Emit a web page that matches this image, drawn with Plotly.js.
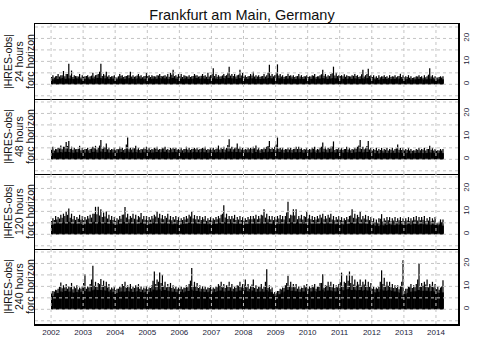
<!DOCTYPE html>
<html>
<head>
<meta charset="utf-8">
<script src="https://cdn.plot.ly/plotly-3.0.1.min.js"></script>
<style>body{margin:0;background:#fff;}</style>
</head>
<body>
<div id="chart" style="width:484px;height:348px;"></div>
<script>
let chartTitle = 'Frankfurt am Main, Germany';
let horizons = ['24 hours', '48 hours', '120 hours', '240 hours'];
let yearTicks = [2002, 2003, 2004, 2005, 2006, 2007, 2008, 2009, 2010, 2011, 2012, 2013, 2014];
let yTicks = [-5, 0, 5, 10, 15, 20, 25];
let yTickText = ['', '0', '', '10', '', '20', ''];

// monthly values, Jan 2002 .. Mar 2014
// "band" = top of the dense daily errors, "mid" = a typical spike, "peak" = highest spike of the month
let h24Band = [
    2.2,2.0,2.3,2.5,2.8,2.4,2.6,2.5,2.3,2.6,2.4,2.2,
    2.3,2.5,2.2,2.6,2.4,2.8,2.7,2.5,2.6,2.4,2.3,2.5,
    2.2,2.4,2.6,2.3,2.5,2.7,2.4,2.3,2.6,2.5,2.2,2.4,
    2.6,2.3,2.5,2.4,2.7,2.5,2.6,2.4,2.3,2.8,2.5,2.4,
    2.5,2.3,2.6,2.4,2.3,2.5,2.7,2.4,2.6,2.5,2.3,2.4,
    2.6,2.5,2.3,2.4,2.7,2.5,2.8,2.6,2.5,2.4,2.7,2.6,
    2.4,2.3,2.5,2.6,2.4,2.4,2.3,2.5,2.4,2.8,2.6,2.5,
    2.7,2.6,2.4,2.3,2.5,2.6,2.4,2.3,2.5,2.4,2.3,2.5,
    2.3,2.4,2.6,2.3,2.5,2.7,2.6,2.4,2.5,2.7,2.6,2.5,
    2.5,2.4,2.3,2.5,2.4,2.6,2.5,2.3,2.6,2.4,2.7,2.5,
    2.3,2.2,2.0,2.2,2.4,2.3,2.1,2.3,2.4,2.2,2.5,2.3,
    2.2,2.3,2.1,2.0,2.2,2.4,2.3,2.1,2.2,2.5,2.4,2.2,
    2.1,2.3,2.2
];
let h24Mid = [
    3.2,3.0,3.6,3.4,4.0,3.5,4.5,3.8,3.2,3.6,3.4,3.0,
    3.3,3.6,3.1,3.8,3.4,4.2,5.5,3.6,3.9,3.4,3.2,3.5,
    3.0,3.5,3.7,3.2,3.6,4.0,3.4,3.3,3.8,3.5,3.1,3.6,
    3.6,3.2,3.5,3.4,3.9,3.6,3.7,3.4,3.3,4.2,3.6,3.3,
    3.5,3.2,3.7,3.4,3.2,3.6,3.9,3.4,3.7,3.6,3.3,3.4,
    4.5,3.6,3.3,3.4,3.9,3.6,5.0,3.8,3.6,3.4,4.2,3.9,
    3.4,3.2,3.6,3.9,3.4,3.4,3.2,3.6,3.4,5.0,3.7,3.5,
    5.2,3.8,3.4,3.2,3.6,3.7,3.4,3.2,3.6,3.4,3.2,3.5,
    3.2,3.4,3.7,3.2,3.5,4.4,3.7,3.4,3.6,4.8,3.9,3.6,
    3.6,3.5,3.3,3.6,3.4,3.7,3.6,3.2,4.4,3.4,4.5,3.6,
    3.2,3.0,2.8,3.1,3.4,3.2,2.9,3.2,3.4,3.1,3.6,3.2,
    3.0,3.2,2.9,2.8,3.1,3.4,3.2,2.9,3.1,4.2,3.4,3.0,
    2.9,3.2,3.0
];
let h24Peak = [
    4.0,3.5,4.5,4.0,5.8,4.5,9.0,6.0,4.0,3.5,4.5,4.0,
    3.5,4.0,3.5,5.0,4.0,4.5,9.0,4.5,5.5,4.0,3.5,4.0,
    3.0,4.5,4.0,3.5,4.0,5.5,4.0,3.5,4.5,4.0,3.5,5.0,
    4.0,4.0,3.5,4.0,4.5,3.5,4.0,4.5,5.0,6.3,4.0,4.5,
    4.5,4.0,3.5,4.0,3.5,4.5,4.0,3.5,4.5,4.0,5.0,4.0,
    7.0,4.5,4.0,3.5,4.5,4.0,7.7,4.5,4.5,4.0,6.3,5.0,
    4.0,3.5,4.5,5.5,4.0,4.0,3.5,4.5,4.0,8.5,4.5,4.0,
    8.7,4.5,4.0,3.5,4.6,4.0,4.0,3.5,4.5,4.0,3.5,4.0,
    3.5,4.0,4.5,3.5,4.0,6.3,4.5,4.0,4.5,7.7,5.0,4.0,
    4.0,4.4,4.0,3.5,4.0,4.5,4.0,3.5,6.3,4.0,6.8,4.0,
    4.0,3.5,4.0,3.5,4.0,3.5,4.0,3.5,4.0,3.5,4.6,4.0,
    3.5,4.0,3.5,3.0,3.5,4.0,3.5,4.0,3.5,7.0,4.0,3.5,
    3.0,3.5,3.5
];
let h48Band = [
    2.8,2.6,3.0,3.2,3.0,3.3,3.2,3.0,2.9,3.1,3.0,2.8,
    2.9,3.1,2.8,3.2,3.3,3.0,3.4,3.1,3.2,3.0,2.9,3.0,
    2.8,3.0,3.2,2.9,3.4,3.1,3.0,3.2,3.0,2.9,3.1,3.0,
    3.1,2.9,3.0,3.2,3.0,3.1,3.3,3.0,2.9,3.1,3.2,3.0,
    3.0,2.8,3.1,3.0,2.9,3.2,3.1,3.0,3.2,3.1,2.9,3.0,
    3.1,3.0,3.2,3.0,3.1,3.0,3.4,3.3,3.1,3.2,3.1,3.0,
    2.9,3.0,3.1,2.7,3.2,3.0,2.8,3.1,3.0,3.3,3.2,3.1,
    3.4,3.2,3.0,2.9,3.1,3.0,2.9,3.1,3.0,3.2,2.9,3.0,
    2.9,3.0,3.2,2.8,3.0,3.3,3.1,3.0,3.1,3.3,3.0,3.1,
    3.0,2.9,3.1,3.0,2.8,3.0,3.1,3.3,3.0,3.1,3.2,3.0,
    2.8,2.7,2.6,2.8,2.9,2.8,2.7,2.9,2.8,3.0,2.9,2.8,
    2.7,2.8,2.6,2.7,2.8,2.9,2.8,2.7,2.8,3.0,2.9,2.8,
    2.7,2.8,2.7
];
let h48Mid = [
    4.2,3.8,4.4,4.8,4.4,5.5,5.8,4.5,4.2,4.4,4.6,4.0,
    4.1,4.5,4.0,4.7,4.8,4.3,6.0,4.6,5.2,4.4,4.1,4.3,
    4.0,4.4,4.6,4.1,6.5,4.4,4.3,4.8,4.3,4.1,4.4,4.5,
    4.4,4.1,4.3,4.7,4.2,4.4,4.8,4.2,4.1,4.4,4.6,4.2,
    4.3,4.0,4.5,4.3,4.1,4.6,4.4,4.2,4.6,4.7,4.1,4.3,
    4.4,4.2,4.8,4.3,4.5,4.3,6.2,4.7,4.4,5.2,4.6,4.3,
    4.1,4.3,4.4,4.6,4.8,4.3,4.0,4.4,4.6,5.8,4.5,4.5,
    6.5,4.6,4.3,4.1,4.4,4.3,4.1,4.6,4.5,4.5,4.1,4.3,
    4.1,4.3,4.6,4.0,4.3,5.5,4.6,4.3,4.6,5.6,4.1,4.4,
    4.3,4.1,4.5,4.3,4.0,4.3,4.6,6.0,4.5,4.4,5.8,4.3,
    3.9,4.1,3.8,4.1,3.9,4.2,3.9,4.2,3.9,4.8,4.2,4.1,
    3.9,4.1,3.8,3.7,3.9,4.2,4.0,4.2,3.9,4.5,4.2,3.9,
    3.7,3.9,3.8
];
let h48Peak = [
    5.5,4.5,5.0,6.0,5.5,7.5,8.0,5.5,5.0,4.5,5.9,5.0,
    4.5,5.0,4.5,5.5,5.9,5.0,8.4,5.5,6.9,5.0,4.5,5.0,
    4.5,5.5,5.0,4.5,9.5,5.0,5.0,5.9,5.0,4.5,5.0,5.5,
    5.0,4.5,5.0,5.5,4.5,5.0,5.5,4.5,5.0,5.0,5.0,4.5,
    5.0,4.5,5.5,5.0,4.5,5.0,5.0,4.5,5.0,5.5,4.5,5.0,
    5.0,4.5,6.0,5.0,5.5,5.0,8.8,5.5,5.0,6.9,5.5,5.0,
    4.5,5.0,5.0,5.5,6.0,5.0,4.5,5.0,5.5,8.0,5.0,5.5,
    9.5,5.0,5.0,4.5,5.0,5.0,4.5,5.5,5.5,5.0,4.5,5.0,
    4.5,5.0,5.5,4.5,5.0,7.3,5.5,5.0,5.5,7.8,4.5,5.0,
    5.0,4.5,5.5,5.0,4.5,5.0,5.5,8.4,5.5,5.0,8.0,5.0,
    4.5,5.0,4.5,5.0,4.5,5.0,4.5,5.0,4.5,6.5,5.0,5.0,
    4.5,5.0,4.5,4.0,4.5,5.0,4.5,5.0,4.5,5.9,5.0,4.5,
    4.0,4.5,4.5
];
let h120Band = [
    4.2,4.5,4.8,5.0,4.9,5.2,5.5,5.0,4.8,4.6,4.9,4.5,
    4.4,4.7,4.9,5.1,5.5,5.3,5.2,5.0,4.9,4.7,4.5,4.8,
    4.3,4.6,4.8,5.3,5.0,4.8,4.9,4.7,4.5,5.0,4.8,4.6,
    4.4,4.6,4.9,5.2,4.7,5.0,4.8,4.9,4.6,4.4,4.7,4.5,
    4.3,4.5,4.7,4.9,5.1,4.9,4.8,4.6,4.5,4.7,4.4,4.6,
    4.5,4.6,4.8,4.9,5.4,5.0,5.1,4.8,4.9,4.6,4.7,4.5,
    4.4,4.5,4.7,4.8,4.6,4.9,4.7,5.2,5.0,4.8,4.7,4.5,
    4.6,4.5,4.8,4.7,5.4,5.0,5.2,5.1,4.8,4.9,4.6,5.0,
    4.8,4.7,4.5,4.6,4.8,4.9,4.7,4.8,4.9,4.6,4.4,4.7,
    4.5,4.3,4.5,4.7,5.0,4.9,4.8,5.0,4.7,4.8,4.6,4.5,
    4.2,3.8,3.6,4.2,3.9,4.1,4.4,4.2,4.0,4.1,4.3,4.2,
    4.1,4.3,4.2,4.4,4.5,4.3,4.6,4.4,4.2,4.3,4.1,4.2,
    3.9,4.1,3.8
];
let h120Mid = [
    5.8,6.2,6.5,6.9,7.2,8.0,8.5,7.2,6.6,6.3,6.8,6.4,
    6.1,6.5,6.9,7.3,9.0,8.8,8.2,7.5,7.8,6.9,6.4,6.2,
    5.9,6.4,6.8,8.6,7.3,6.6,7.2,6.8,6.5,7.4,6.6,6.4,
    6.1,6.4,6.9,7.8,7.2,6.9,6.6,7.2,6.5,6.1,6.5,6.2,
    5.9,6.2,6.5,6.9,7.8,6.9,6.6,6.5,6.2,6.6,5.9,6.2,
    6.0,6.3,6.6,7.0,9.0,7.3,6.7,6.6,6.9,6.2,6.5,6.2,
    5.9,6.2,6.6,6.6,6.9,6.6,6.9,8.2,7.3,6.6,6.5,6.2,
    6.5,6.9,6.6,6.5,9.5,7.0,8.2,8.2,6.6,6.9,6.5,7.6,
    7.0,6.6,6.2,6.5,6.9,7.3,6.6,6.9,7.3,6.5,6.1,6.5,
    6.2,5.9,6.2,6.6,8.2,7.2,6.9,7.6,6.5,6.9,6.5,6.2,
    5.7,5.2,5.0,6.8,5.6,6.0,6.1,5.7,6.0,5.7,6.1,5.8,
    5.7,6.0,5.7,6.0,6.4,6.0,6.1,6.3,5.7,6.0,5.7,6.0,
    4.8,5.5,5.3
];
let h120Peak = [
    7.0,8.0,7.5,8.5,9.0,10.0,11.3,9.0,8.0,7.5,8.5,8.0,
    7.5,8.0,8.5,9.0,12.0,12.0,10.9,9.5,10.0,8.5,8.0,7.5,
    7.0,8.0,8.5,11.9,9.0,8.0,9.0,8.5,8.0,9.3,8.0,8.0,
    7.5,8.0,8.5,10.0,9.0,8.4,8.0,9.0,8.0,7.5,8.0,7.5,
    7.0,7.5,8.0,8.5,10.0,8.4,8.0,8.0,7.5,8.0,7.0,7.5,
    7.0,7.5,8.0,8.5,12.7,9.0,8.0,8.0,8.5,7.5,8.0,7.5,
    7.0,7.5,8.0,8.0,8.5,8.0,8.5,10.9,9.0,8.0,8.0,7.5,
    8.0,8.4,8.0,8.0,14.2,8.5,10.9,10.9,8.0,8.5,8.0,9.8,
    8.5,8.0,7.5,8.0,8.5,9.0,8.0,8.5,9.0,8.0,7.5,8.0,
    7.5,7.0,7.5,8.0,10.9,9.0,8.5,9.8,8.0,8.5,8.0,7.5,
    7.0,6.5,7.0,8.8,7.0,7.5,7.5,7.0,7.5,7.0,7.5,7.0,
    7.0,7.5,7.0,7.5,8.0,7.5,7.5,8.0,7.0,7.5,7.0,7.5,
    5.0,6.5,6.5
];
let h240Band = [
    5.8,6.6,7.1,7.8,7.6,8.0,7.7,7.8,7.3,7.6,7.4,7.7,
    8.0,7.6,7.8,8.3,8.6,8.4,8.4,8.3,8.2,7.8,7.3,7.6,
    7.1,7.6,7.8,7.7,8.0,7.8,7.6,7.7,7.9,7.6,7.3,7.6,
    7.5,7.8,8.6,8.3,8.7,8.0,8.4,8.1,7.9,7.7,7.6,7.4,
    7.6,7.4,7.8,8.0,8.6,8.1,8.0,7.8,7.7,7.6,7.5,7.8,
    7.4,7.6,7.9,8.2,7.8,7.7,8.1,7.9,7.6,7.8,8.2,8.0,
    8.3,7.9,7.6,8.2,7.7,7.6,7.8,7.7,8.4,7.8,7.5,5.8,
    6.0,6.6,7.3,7.8,8.5,8.0,8.1,7.9,7.7,7.6,7.8,7.9,
    7.7,7.8,8.0,7.7,8.1,8.6,7.8,8.2,8.2,7.9,7.8,8.0,
    8.6,8.3,8.7,8.8,8.4,8.6,8.2,8.4,8.1,8.4,8.2,8.0,
    7.6,7.4,7.7,8.7,8.2,8.1,8.4,8.1,7.8,7.7,7.3,6.0,
    6.6,7.2,7.7,7.8,7.9,8.4,8.0,8.1,8.1,7.8,8.0,7.8,
    7.3,7.1,7.4
];
let h240Mid = [
    7.2,7.8,8.3,9.8,9.2,9.5,9.0,9.6,8.8,9.2,8.6,9.0,
    11.5,9.0,9.5,13.0,10.3,10.0,11.0,10.5,10.2,9.5,8.6,9.0,
    8.3,9.0,9.5,10.2,9.4,9.6,9.0,9.3,9.6,9.0,8.6,9.0,
    8.8,9.3,12.5,11.0,12.0,11.5,10.3,9.6,9.8,9.3,9.0,8.7,
    9.0,8.7,9.3,9.6,12.5,10.3,9.8,9.3,9.0,9.0,8.7,9.3,
    8.7,9.0,9.6,10.3,9.6,9.3,10.3,9.6,9.0,9.3,10.3,9.6,
    10.8,9.6,9.0,10.8,9.3,9.0,9.6,9.0,12.0,9.3,8.7,6.8,
    7.2,8.0,8.6,9.3,11.5,10.3,9.6,9.6,9.0,8.7,9.3,9.6,
    9.0,9.3,9.6,9.0,9.8,11.5,9.3,10.3,10.3,9.6,9.3,9.6,
    11.8,10.3,11.5,12.5,11.5,10.8,10.3,10.8,10.3,10.8,10.3,9.8,
    9.0,8.7,9.0,12.0,11.0,10.3,10.3,9.6,9.3,9.3,8.8,12.0,
    8.0,9.0,9.6,9.3,9.6,13.0,9.8,10.3,10.8,9.6,10.3,9.6,
    8.8,8.5,10.0
];
let h240Peak = [
    8.0,8.5,9.0,11.7,10.5,11.0,10.0,11.5,10.0,10.5,9.5,10.0,
    15.3,10.0,11.0,19.0,12.0,11.5,13.2,12.5,12.0,11.0,9.5,10.0,
    9.0,10.0,11.0,12.0,10.5,11.0,10.0,10.5,11.0,10.0,9.5,10.0,
    9.5,10.5,16.5,13.0,16.0,15.0,12.0,11.0,11.5,10.5,10.0,9.5,
    10.0,9.5,10.5,11.0,18.0,12.0,11.5,10.5,10.0,10.0,9.5,10.5,
    9.5,10.0,11.0,12.0,11.0,10.5,12.0,11.0,10.0,10.5,12.0,11.0,
    13.0,11.0,10.0,13.0,10.5,10.0,11.0,10.0,17.5,10.5,9.5,7.5,
    8.0,9.0,9.5,10.5,14.6,12.0,11.0,11.0,10.0,9.5,10.5,11.0,
    10.0,10.5,11.0,10.0,11.5,15.3,10.5,12.0,12.0,11.0,10.5,11.0,
    16.0,12.0,14.7,16.5,14.6,13.0,12.0,13.0,12.0,13.0,12.0,11.5,
    10.0,9.5,10.0,17.0,13.8,12.0,12.0,11.0,10.5,10.5,10.0,21.4,
    9.0,10.0,11.0,10.5,11.0,20.0,11.5,12.0,13.0,11.0,12.0,11.0,
    10.0,9.5,12.7
];

let bands = [h24Band, h48Band, h120Band, h240Band];
let mids = [h24Mid, h48Mid, h120Mid, h240Mid];
let peaks = [h24Peak, h48Peak, h120Peak, h240Peak];

// month positions: block centre, early-month spike, late-month spike
let monthCentre = [];
let monthEarly = [];
let monthLate = [];
for (let i = 0; i < h24Band.length; i++) {
    let y = 2002 + Math.floor(i / 12);
    let m = (i % 12) + 1;
    let ym = y + '-' + (m < 10 ? '0' + m : m);
    monthCentre.push(ym + '-16');
    monthEarly.push(ym + '-07');
    monthLate.push(ym + '-22');
}

let dayMs = 86400000;
let font = 'Liberation Sans, Arial, sans-serif';
let gridColor = '#c4c4c4';

let data = [];
let shapes = [];
let annotations = [];
let layout = {
    width: 484,
    height: 348,
    margin: { l: 35, r: 26, t: 24, b: 24 },
    paper_bgcolor: '#fff',
    plot_bgcolor: '#fff',
    showlegend: false,
    barmode: 'overlay',
    font: { family: font, color: '#111' },
    title: {
        text: chartTitle,
        x: 0.5,
        xref: 'container',
        y: 1 - 15 / 348,
        yanchor: 'middle',
        font: { family: font, size: 14.5, color: '#111' },
    },
};

let yearDates = yearTicks.map((y) => y + '-01-01');

function spikeTrace(x, y, w, s) {
    return {
        type: 'bar',
        x: x,
        y: y,
        width: w * dayMs,
        marker: { color: '#000', line: { width: 0 } },
        xaxis: 'x' + s,
        yaxis: 'y' + s,
        hoverinfo: 'skip',
    };
}

for (let p = 0; p < 4; p++) {
    let s = p === 0 ? '' : String(p + 1);
    let top = 1 - p * 0.25;
    let bottom = 1 - (p + 1) * 0.25;

    data.push(spikeTrace(monthCentre, bands[p], 32, s));
    data.push(spikeTrace(monthEarly, mids[p], 14, s));
    data.push(spikeTrace(monthLate, peaks[p], 14, s));

    layout['xaxis' + s] = {
        type: 'date',
        range: ['2001-07-02', '2014-09-09'],
        domain: [0, 1],
        anchor: 'y' + s,
        tickvals: yearDates,
        ticktext: yearTicks.map(String),
        showticklabels: p === 3,
        tickfont: { family: font, size: 8, color: '#1c1c3a' },
        ticks: '',
        showgrid: false,
        zeroline: false,
        showline: true,
        // only the top panel draws its upper edge, the others share the line above
        mirror: p === 0,
        linecolor: '#000',
        linewidth: p === 3 ? 1.5 : 1,
    };
    layout['yaxis' + s] = {
        domain: [bottom, top],
        anchor: 'x' + s,
        side: 'right',
        range: [-6.4, 26.3],
        tickvals: yTicks,
        ticktext: yTickText,
        tickangle: -90,
        tickfont: { family: font, size: 8, color: '#1c1c3a' },
        ticks: '',
        showgrid: false,
        zeroline: false,
        showline: true,
        mirror: true,
        linecolor: '#000',
        linewidth: 1.5,
    };

    // dashed grid drawn over the data, like grid() after plot()
    yTicks.forEach((v) => {
        shapes.push({
            type: 'line', layer: 'above',
            xref: 'x' + s + ' domain', x0: 0, x1: 1,
            yref: 'y' + s, y0: v, y1: v,
            line: { color: gridColor, width: 1, dash: '3px,3px' },
        });
    });
    yearDates.forEach((d) => {
        shapes.push({
            type: 'line', layer: 'above',
            xref: 'x' + s, x0: d, x1: d,
            yref: 'y' + s + ' domain', y0: 0, y1: 1,
            line: { color: gridColor, width: 1, dash: '3px,3px' },
        });
    });

    let lines = ['|HRES-obs|', horizons[p], 'forc horizon'];
    let px = [7.5, 18.5, 29.5];
    for (let k = 0; k < 3; k++) {
        annotations.push({
            text: lines[k],
            xref: 'paper', yref: 'paper',
            x: (px[k] - 35) / 423,
            y: (top + bottom) / 2,
            xanchor: 'center', yanchor: 'middle',
            textangle: -90,
            showarrow: false,
            font: { family: font, size: 10.5, color: '#111' },
        });
    }
}

layout.shapes = shapes;
layout.annotations = annotations;

Plotly.newPlot('chart', data, layout, { displayModeBar: false, staticPlot: true });
</script>
</body>
</html>
